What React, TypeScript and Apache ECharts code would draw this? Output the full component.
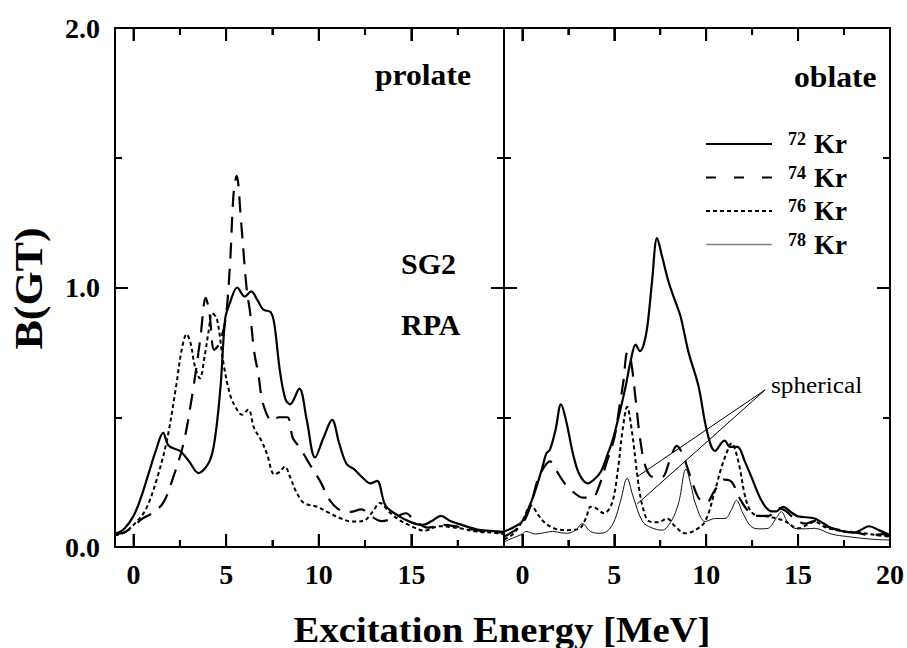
import React, { useEffect, useRef } from 'react';
import * as echarts from 'echarts';

const FONT = '"Liberation Serif", "Times New Roman", Times, serif';

const X_MIN = -1;
const X_MAX = 20;
const Y_MIN = 0;
const Y_MAX = 2;
const xMajorStep = 5;
const xMinorStep = 2.5;
const xMajorTicksLeft = [0, 5, 10, 15];
const xMajorTicksRight = [0, 5, 10, 15, 20];
const xMinorTicks = [2.5, 7.5, 12.5, 17.5];
const xLabelsLeft = [0, 5, 10, 15];
const xLabelsRight = [0, 5, 10, 15, 20];
const yMajorTicks = [0, 1, 2];
const yMinorTicks = [0.5, 1.5];
const yLabels = [0, 1, 2];

// Prolate panel (left)
const prolate72: [number, number][] = [
  [-1, 0.05], [-0.5, 0.07], [0, 0.12], [0.4, 0.19], [0.8, 0.28], [1.2, 0.37], [1.6, 0.44], [1.9, 0.39],
  [2.5, 0.37], [3.0, 0.33], [3.5, 0.285], [4.1, 0.33], [4.4, 0.42], [4.7, 0.62], [4.95, 0.88], [5.2, 0.94],
  [5.6, 1.0], [6.0, 0.965], [6.35, 0.985], [6.7, 0.95], [7.0, 0.915], [7.4, 0.905], [7.6, 0.86], [7.9, 0.68],
  [8.2, 0.57], [8.45, 0.55], [8.95, 0.61], [9.35, 0.49], [9.8, 0.345], [10.25, 0.42], [10.72, 0.49], [11.1, 0.40],
  [11.5, 0.32], [11.9, 0.30], [12.4, 0.265], [12.8, 0.245], [13.15, 0.255], [13.6, 0.16], [14.3, 0.12], [15.0, 0.095],
  [15.6, 0.085], [16.1, 0.10], [16.6, 0.12], [17.1, 0.10], [17.6, 0.088], [18.5, 0.068], [19.3, 0.062], [20, 0.058],
];
const prolate74: [number, number][] = [
  [-1, 0.05], [-0.4, 0.06], [0.5, 0.11], [1.0, 0.13], [1.6, 0.17], [2.1, 0.26], [2.7, 0.40], [3.2, 0.60],
  [3.6, 0.80], [3.9, 0.96], [4.1, 0.90], [4.35, 0.76], [4.6, 0.78], [4.95, 0.87], [5.2, 1.08], [5.4, 1.36],
  [5.57, 1.43], [5.8, 1.26], [6.1, 1.0], [6.3, 0.90], [6.5, 0.76], [6.75, 0.66], [7.0, 0.55], [7.5, 0.485],
  [7.85, 0.50], [8.3, 0.50], [8.6, 0.42], [9.0, 0.38], [9.5, 0.32], [10.1, 0.25], [10.6, 0.18], [11.2, 0.14],
  [11.7, 0.135], [12.3, 0.145], [12.8, 0.12], [13.4, 0.10], [14.0, 0.11], [14.7, 0.13], [15.2, 0.10], [15.9, 0.075],
  [16.7, 0.085], [17.5, 0.078], [18.5, 0.065], [19.3, 0.058], [20, 0.055],
];
const prolate76: [number, number][] = [
  [-1, 0.045], [-0.5, 0.055], [0.2, 0.10], [0.7, 0.15], [1.25, 0.26], [1.8, 0.41], [2.3, 0.62], [2.6, 0.76],
  [2.87, 0.82], [3.1, 0.78], [3.3, 0.70], [3.58, 0.65], [3.85, 0.74], [4.05, 0.83], [4.25, 0.90], [4.5, 0.88],
  [4.85, 0.71], [5.2, 0.59], [5.5, 0.54], [5.85, 0.51], [6.2, 0.53], [6.5, 0.46], [6.9, 0.41], [7.2, 0.36],
  [7.6, 0.28], [7.9, 0.29], [8.17, 0.31], [8.45, 0.27], [8.8, 0.21], [9.2, 0.17], [9.9, 0.155], [10.6, 0.13],
  [11.2, 0.11], [11.8, 0.098], [12.4, 0.10], [12.9, 0.135], [13.3, 0.17], [13.8, 0.135], [14.35, 0.104], [15.0, 0.08],
  [15.7, 0.063], [16.5, 0.08], [17.6, 0.072], [18.5, 0.06], [19.4, 0.055], [20, 0.05],
];

// Oblate panel (right)
const oblate72: [number, number][] = [
  [-1, 0.06], [-0.5, 0.075], [0, 0.10], [0.4, 0.16], [0.76, 0.23], [1.1, 0.31], [1.3, 0.36], [1.5, 0.375],
  [1.8, 0.45], [2.1, 0.55], [2.4, 0.48], [2.75, 0.36], [3.1, 0.28], [3.55, 0.245], [3.9, 0.26], [4.27, 0.29],
  [4.6, 0.35], [4.9, 0.41], [5.3, 0.52], [5.62, 0.62], [5.9, 0.72], [6.16, 0.78], [6.4, 0.755], [6.6, 0.78],
  [6.8, 0.85], [7.05, 1.02], [7.33, 1.19], [7.6, 1.12], [7.96, 1.02], [8.3, 0.95], [8.6, 0.89], [9.04, 0.75],
  [9.58, 0.62], [10.03, 0.45], [10.48, 0.37], [11.0, 0.41], [11.3, 0.386], [11.7, 0.386], [12.1, 0.33], [12.46, 0.27],
  [13.0, 0.18], [13.45, 0.14], [13.8, 0.137], [14.18, 0.155], [14.6, 0.135], [15.0, 0.118], [15.9, 0.11], [16.8, 0.073],
  [17.5, 0.06], [18.05, 0.055], [18.4, 0.065], [18.86, 0.08], [19.4, 0.065], [20, 0.045],
];
const oblate74: [number, number][] = [
  [-1, 0.04], [-0.5, 0.06], [0, 0.09], [0.4, 0.15], [0.84, 0.26], [1.2, 0.31], [1.5, 0.33], [1.8, 0.30],
  [2.3, 0.245], [2.8, 0.21], [3.3, 0.19], [3.8, 0.19], [4.2, 0.24], [4.6, 0.33], [5.0, 0.42], [5.3, 0.55],
  [5.5, 0.64], [5.71, 0.75], [5.9, 0.72], [6.16, 0.57], [6.4, 0.42], [6.7, 0.31], [7.1, 0.27], [7.6, 0.27],
  [8.0, 0.33], [8.4, 0.39], [8.7, 0.36], [9.1, 0.28], [9.58, 0.19], [10.0, 0.17], [10.48, 0.22], [11.0, 0.26],
  [11.4, 0.25], [11.8, 0.19], [12.4, 0.13], [12.9, 0.12], [13.4, 0.12], [13.9, 0.15], [14.3, 0.14], [14.8, 0.11],
  [15.4, 0.09], [15.9, 0.10], [16.5, 0.08], [17.3, 0.065], [18.2, 0.055], [19.0, 0.045], [19.6, 0.05], [20, 0.04],
];
const oblate76: [number, number][] = [
  [-1, 0.03], [-0.5, 0.05], [0, 0.10], [0.47, 0.16], [0.9, 0.12], [1.28, 0.09], [1.8, 0.07], [2.36, 0.065],
  [3.08, 0.07], [3.45, 0.11], [3.71, 0.155], [4.0, 0.15], [4.43, 0.13], [4.88, 0.17], [5.2, 0.30], [5.45, 0.45],
  [5.7, 0.54], [5.95, 0.45], [6.34, 0.23], [6.6, 0.14], [6.88, 0.10], [7.4, 0.095], [7.87, 0.11], [8.3, 0.08],
  [8.86, 0.053], [9.4, 0.065], [9.95, 0.10], [10.49, 0.22], [10.8, 0.30], [11.1, 0.36], [11.38, 0.40], [11.6, 0.37],
  [11.84, 0.30], [12.1, 0.20], [12.4, 0.14], [12.8, 0.12], [13.37, 0.117], [14.27, 0.10], [14.99, 0.072], [15.5, 0.085],
  [15.9, 0.098], [16.5, 0.075], [17.5, 0.06], [18.6, 0.053], [19.3, 0.045], [20, 0.04],
];
const oblate78: [number, number][] = [
  [-1, 0.02], [-0.5, 0.035], [0, 0.05], [0.2, 0.06], [0.7, 0.05], [1.2, 0.055], [1.64, 0.06], [2.1, 0.055],
  [2.45, 0.053], [2.9, 0.065], [3.26, 0.09], [3.7, 0.06], [4.16, 0.053], [4.6, 0.06], [5.0, 0.10], [5.35, 0.18],
  [5.7, 0.265], [6.0, 0.20], [6.52, 0.10], [7.0, 0.075], [7.6, 0.065], [8.1, 0.10], [8.5, 0.17], [8.9, 0.30],
  [9.2, 0.23], [9.4, 0.17], [9.95, 0.098], [10.49, 0.11], [11.03, 0.11], [11.35, 0.14], [11.65, 0.18], [12.0, 0.13],
  [12.46, 0.078], [13.0, 0.07], [13.37, 0.072], [13.8, 0.11], [14.09, 0.136], [14.4, 0.10], [14.81, 0.072], [15.4, 0.07],
  [15.9, 0.072], [16.8, 0.05], [17.7, 0.04], [19.0, 0.03], [20, 0.027],
];

const legendNames = ['72Kr', '74Kr', '76Kr', '78Kr'];
// annotation arrows for "spherical": [from E, from B, to E, to B]
const sphericalArrows = [
  [13.2, 0.605, 6.25, 0.271],
  [13.2, 0.605, 6.25, 0.166],
];

const PLOT_HEIGHT = 519;
const MAJOR_TICK_PX = 13;
const MINOR_TICK_PX = 7;

const solidStyle = () => ({ color: '#000', width: 2.2, type: 'solid' });
const dashedStyle = () => ({ color: '#000', width: 2.2, type: [16, 10] });
const dottedStyle = () => ({ color: '#000', width: 2, type: [4, 3] });
const thinStyle = () => ({ color: '#111', width: 1, type: 'solid' });

function makeX(gridIndex: number, position: string, step: number, len: number, showLine: boolean, labels?: number[]) {
  return {
    type: 'value', gridIndex, position, min: X_MIN, max: X_MAX, z: 10,
    minInterval: step, maxInterval: step,
    axisLine: { show: showLine, onZero: false, lineStyle: { color: '#000', width: 2 } },
    axisTick: { show: true, inside: true, length: len, lineStyle: { color: '#000', width: 2 } },
    axisLabel: labels
      ? { show: true, customValues: labels, color: '#000', fontFamily: FONT, fontWeight: 'bold', fontSize: 28, margin: 13 }
      : { show: false },
    splitLine: { show: false },
  };
}

function makeY(gridIndex: number, position: string, ticks: number[], len: number, showLine: boolean, labels?: number[]) {
  return {
    type: 'value', gridIndex, position, min: Y_MIN, max: Y_MAX,
    axisLine: { show: showLine, onZero: false, lineStyle: { color: '#000', width: 2 } },
    axisTick: { show: true, inside: true, length: len, customValues: ticks, lineStyle: { color: '#000', width: 2 } },
    axisLabel: labels
      ? { show: true, customValues: labels, formatter: (v: number) => v.toFixed(1), color: '#000', fontFamily: FONT, fontWeight: 'bold', fontSize: 28, margin: 15 }
      : { show: false },
    splitLine: { show: false },
  };
}

function lineSeries(name: string, data: [number, number][], xIndex: number, yIndex: number, style: any, extra: any = {}) {
  return {
    type: 'line', name, data, xAxisIndex: xIndex, yAxisIndex: yIndex,
    symbol: 'none', showSymbol: false, smooth: 0.35, lineStyle: style, itemStyle: { color: style.color },
    silent: true, ...extra,
  };
}

export default function App() {
  const ref = useRef<HTMLDivElement>(null);
  useEffect(() => {
    if (!ref.current) return;
    const chart = echarts.init(ref.current, undefined, { renderer: 'svg' });
    const textStyle = (font: string, align: string) => ({ font, fill: '#000', align, verticalAlign: 'middle', textAlign: align, textVerticalAlign: 'middle' });
    const textGraphics: any[] = [
      { id: 't-prolate', type: 'text', x: 375, y: 75.5, scaleX: 1.09, style: { text: 'prolate', ...textStyle(`bold 29px ${FONT}`, 'left') } },
      { id: 't-oblate', type: 'text', x: 794, y: 77, scaleX: 1.09, style: { text: 'oblate', ...textStyle(`bold 29px ${FONT}`, 'left') } },
      { id: 't-sg2', type: 'text', x: 401, y: 263, style: { text: 'SG2', ...textStyle(`bold 30px ${FONT}`, 'left') } },
      { id: 't-rpa', type: 'text', x: 401, y: 324, style: { text: 'RPA', ...textStyle(`bold 30px ${FONT}`, 'left') } },
      { id: 't-sph', type: 'text', x: 771, y: 385, scaleX: 1.1, style: { text: 'spherical', ...textStyle(`23px ${FONT}`, 'left') } },
      { id: 't-xname', type: 'text', x: 502, y: 629.5, scaleX: 1.075, style: { text: 'Excitation Energy [MeV]', ...textStyle(`bold 36px ${FONT}`, 'center') } },
      { id: 't-yname', type: 'text', x: 28.5, y: 288.5, rotation: Math.PI / 2, scaleX: 1.1, style: { text: 'B(GT)', ...textStyle(`bold 40px ${FONT}`, 'center') } },
    ];
    const option: any = {
      animation: false,
      grid: [
        { left: 115, top: 28, width: 389, height: PLOT_HEIGHT },
        { left: 504, top: 28, width: 389, height: PLOT_HEIGHT },
      ],
      xAxis: [
        makeX(0, 'bottom', xMajorStep, MAJOR_TICK_PX, true, xLabelsLeft),
        makeX(0, 'bottom', xMinorStep, MINOR_TICK_PX, false),
        makeX(0, 'top', xMajorStep, MAJOR_TICK_PX, true),
        makeX(0, 'top', xMinorStep, MINOR_TICK_PX, false),
        makeX(1, 'bottom', xMajorStep, MAJOR_TICK_PX, true, xLabelsRight),
        makeX(1, 'bottom', xMinorStep, MINOR_TICK_PX, false),
        makeX(1, 'top', xMajorStep, MAJOR_TICK_PX, true),
        makeX(1, 'top', xMinorStep, MINOR_TICK_PX, false),
      ],
      yAxis: [
        makeY(0, 'left', yMajorTicks, MAJOR_TICK_PX, true, yLabels),
        makeY(0, 'left', yMinorTicks, 7, false),
        makeY(0, 'right', yMajorTicks, MAJOR_TICK_PX, true),
        makeY(0, 'right', yMinorTicks, 7, false),
        makeY(1, 'left', yMajorTicks, MAJOR_TICK_PX, true),
        makeY(1, 'left', yMinorTicks, 7, false),
        makeY(1, 'right', yMajorTicks, MAJOR_TICK_PX, true),
        makeY(1, 'right', yMinorTicks, 7, false),
      ],
      legend: {
        show: true, orient: 'vertical', left: 705, top: 130, padding: 0,
        itemWidth: 66, itemHeight: 14, itemGap: 6, selectedMode: false,
        itemStyle: { opacity: 0 },
        data: legendNames.map((n, i) => ({
          name: n,
          lineStyle: i === 1 ? { type: [10, 18] } : i === 3 ? { color: '#808080', width: 1.5 } : undefined,
        })),
        formatter: (name: string) => `{sup|${name.slice(0, 2)}}{kr|Kr}`,
        textStyle: {
          rich: {
            sup: { fontSize: 18, fontWeight: 'bold', fontFamily: FONT, color: '#000', verticalAlign: 'top', padding: [0, 8, 0, 11], lineHeight: 28 },
            kr: { fontSize: 27, fontWeight: 'bold', fontFamily: FONT, color: '#000', lineHeight: 28 },
          },
        },
      },
      series: [
        lineSeries('72Kr', prolate72, 0, 0, solidStyle()),
        lineSeries('74Kr', prolate74, 0, 0, dashedStyle()),
        lineSeries('76Kr', prolate76, 0, 0, dottedStyle()),
        lineSeries('72Kr', oblate72, 4, 4, solidStyle()),
        lineSeries('74Kr', oblate74, 4, 4, dashedStyle()),
        lineSeries('76Kr', oblate76, 4, 4, dottedStyle()),
        lineSeries('78Kr', oblate78, 4, 4, thinStyle(), {
          markLine: {
            silent: true, symbol: 'none', animation: false,
            label: { show: false },
            lineStyle: { color: '#000', width: 1, type: 'solid' },
            emphasis: { disabled: true },
            data: sphericalArrows.map((a) => [{ coord: [a[0], a[1]] }, { coord: [a[2], a[3]] }]),
          },
        }),
      ],
      graphic: textGraphics,
    };
    chart.setOption(option);

    // x-axis tick marks on both edges, placed through the chart's own scales
    const tickGraphics: any[] = [];
    const addTicks = (seriesIndex: number, vals: number[], len: number, tag: string) => {
      vals.forEach((e, i) => {
        const b = chart.convertToPixel({ seriesIndex }, [e, Y_MIN]) as number[];
        const t = chart.convertToPixel({ seriesIndex }, [e, Y_MAX]) as number[];
        if (!b || !t) return;
        tickGraphics.push({ id: `tb-${tag}-${i}`, type: 'line', z: 100, silent: true, shape: { x1: b[0], y1: b[1], x2: b[0], y2: b[1] - len }, style: { stroke: '#000', lineWidth: 2 } });
        tickGraphics.push({ id: `tt-${tag}-${i}`, type: 'line', z: 100, silent: true, shape: { x1: t[0], y1: t[1], x2: t[0], y2: t[1] + len }, style: { stroke: '#000', lineWidth: 2 } });
      });
    };
    addTicks(0, xMajorTicksLeft, MAJOR_TICK_PX, 'lM');
    addTicks(0, xMinorTicks, MINOR_TICK_PX, 'lm');
    addTicks(3, xMajorTicksRight, MAJOR_TICK_PX, 'rM');
    addTicks(3, xMinorTicks, MINOR_TICK_PX, 'rm');
    chart.setOption({ graphic: [...textGraphics, ...tickGraphics] });

    return () => chart.dispose();
  }, []);
  return <div ref={ref} style={{ position: 'fixed', left: 0, top: 0, width: 907, height: 648, background: '#fff' }} />;
}
